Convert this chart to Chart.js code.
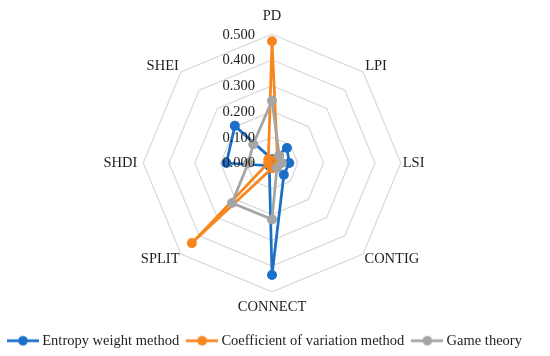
<!DOCTYPE html>
<html>
<head>
<meta charset="utf-8">
<script src="https://cdn.jsdelivr.net/npm/chart.js@4"></script>
<style>
  html, body { margin: 0; padding: 0; background: #ffffff; }
  #wrap { width: 550px; height: 356px; position: relative; }
</style>
</head>
<body>
<div id="wrap"><canvas id="c"></canvas></div>
<script>
// ---- data ----
const categories = ['PD', 'LPI', 'LSI', 'CONTIG', 'CONNECT', 'SPLIT', 'SHDI', 'SHEI'];
const entropyWeight = [0.015, 0.082, 0.067, 0.065, 0.435, 0.015, 0.177, 0.204];
const coefficientVariation = [0.473, 0.030, 0.025, 0.020, 0.020, 0.440, 0.015, 0.020];
const gameTheory = [0.242, 0.040, 0.038, 0.027, 0.219, 0.220, 0.092, 0.103];
const seriesNames = ['Entropy weight method', 'Coefficient of variation method', 'Game theory'];
const tickLabels = ['0.000', '0.100', '0.200', '0.300', '0.400', '0.500'];

// ---- styles ----
const colors = ['#1b6fc6', '#f7861f', '#a5a5a5'];
const labelPads = [14, 3, 2, 2, 11.5, 2, 6, 3];
const FONT = '"Liberation Serif", "Times New Roman", serif';
const TEXT = '#1e1e1e';

Chart.defaults.font.family = FONT;

function legendMarker(color) {
  const cv = document.createElement('canvas');
  cv.width = 32; cv.height = 12;
  const c = cv.getContext('2d');
  c.strokeStyle = color; c.lineWidth = 2.75;
  c.beginPath(); c.moveTo(0, 6); c.lineTo(32, 6); c.stroke();
  c.fillStyle = color;
  c.beginPath(); c.arc(16, 6, 4.8, 0, Math.PI * 2); c.fill();
  return cv;
}
const markers = colors.map(legendMarker);

const tickLabelPlugin = {
  id: 'tickLabelPlugin',
  afterDatasetsDraw(chart) {
    const s = chart.scales.r;
    const ctx = chart.ctx;
    ctx.save();
    ctx.font = '14.5px ' + FONT;
    ctx.fillStyle = TEXT;
    ctx.textAlign = 'right';
    ctx.textBaseline = 'middle';
    s.ticks.forEach((t, i) => {
      const d = s.getDistanceFromCenterForValue(t.value);
      ctx.fillText(tickLabels[i], s.xCenter - 17, s.yCenter - d + 0.5);
    });
    ctx.restore();
  }
};

const datasets = [entropyWeight, coefficientVariation, gameTheory].map((vals, i) => ({
  label: seriesNames[i],
  data: vals,
  borderColor: colors[i],
  backgroundColor: colors[i],
  pointBackgroundColor: colors[i],
  pointBorderColor: colors[i],
  pointBorderWidth: 0,
  pointRadius: 5,
  borderWidth: 2.75,
  fill: false,
  order: 3 - i
}));

new Chart(document.getElementById('c'), {
  type: 'radar',
  data: { labels: categories, datasets },
  options: {
    responsive: true,
    maintainAspectRatio: false,
    animation: false,
    layout: { padding: { top: 11, right: 6, bottom: -2, left: 0 } },
    plugins: {
      tooltip: { enabled: false },
      legend: {
        position: 'bottom',
        align: 'start',
        title: { display: true, text: '', font: { size: 1, lineHeight: 1 }, padding: { top: 9, bottom: 0 } },
        labels: {
          usePointStyle: true,
          pointStyleWidth: 24,
          padding: 11,
          color: TEXT,
          font: { size: 14.5, family: FONT },
          sort: (a, b) => a.datasetIndex - b.datasetIndex,
          generateLabels(chart) {
            const items = Chart.defaults.plugins.legend.labels.generateLabels(chart);
            items.forEach((it) => { it.pointStyle = markers[it.datasetIndex]; });
            return items;
          }
        }
      }
    },
    scales: {
      r: {
        min: 0,
        max: 0.5,
        ticks: { stepSize: 0.1, display: false },
        angleLines: { display: false },
        grid: { color: '#d9d9d9', lineWidth: 1.2 },
        pointLabels: {
          color: TEXT,
          font: { size: 14.5, family: FONT, lineHeight: 0.5 },
          padding: (ctx) => labelPads[ctx.index]
        }
      }
    }
  },
  plugins: [tickLabelPlugin]
});
</script>
</body>
</html>
